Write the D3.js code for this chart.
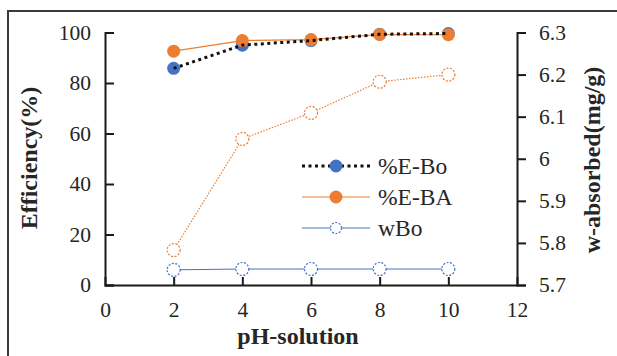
<!DOCTYPE html>
<html><head><meta charset="utf-8">
<script src="https://cdn.jsdelivr.net/npm/d3@7"></script>
<style>body{margin:0;background:#fff}svg{display:block}</style>
</head><body><svg id="c" width="617" height="356"></svg>
<script>
const pH = [2, 4, 6, 8, 10];
const effBo = [85.8, 95.0, 96.8, 99.3, 99.6];
const effBA = [92.6, 96.8, 97.2, 99.2, 99.1];
const wBA = [5.783, 6.047, 6.109, 6.183, 6.200];
const wBo = [5.736, 5.738, 5.738, 5.738, 5.738];
const xTicks = [0, 2, 4, 6, 8, 10, 12];
const yLeftTicks = [0, 20, 40, 60, 80, 100];
const yRightTicks = [5.7, 5.8, 5.9, 6.0, 6.1, 6.2, 6.3];
const legendItems = ["%E-Bo", "%E-BA", "wBo"];

const svg = d3.select("#c");
const font = "'Liberation Serif', 'Times New Roman', serif";
const blue = "#4472c4", orange = "#ed7d31", txt = "#262626";

const L = 105, R = 517, T = 32.5, B = 285;
const x = d3.scaleLinear().domain([0, 12]).range([L, R]);
const yL = d3.scaleLinear().domain([0, 100]).range([B, T]);
const yR = d3.scaleLinear().domain([5.7, 6.3]).range([B, T]);

// outer frame
svg.append("path").attr("d", "M8,360 L8,11 L620,11").attr("fill", "none")
  .attr("stroke", "#3a3a3a").attr("stroke-width", 2);

// axes
const gx = svg.append("g").attr("transform", `translate(0,${B})`)
  .call(d3.axisBottom(x).tickValues(xTicks).tickSize(-8).tickPadding(17).tickFormat(d3.format("d")));
const gl = svg.append("g").attr("transform", `translate(${L},0)`)
  .call(d3.axisLeft(yL).tickValues(yLeftTicks).tickSize(-9).tickPadding(14).tickFormat(d3.format("d")));
const gr = svg.append("g").attr("transform", `translate(${R},0)`)
  .call(d3.axisRight(yR).tickValues(yRightTicks).tickSize(9).tickPadding(13).tickFormat(d => d === 6 ? "6" : d3.format(".1f")(d)));
[gx, gl, gr].forEach(g => {
  g.select(".domain").attr("stroke", "#1a1a1a").attr("stroke-width", 2);
  g.selectAll(".tick line").attr("stroke", "#1a1a1a").attr("stroke-width", 2);
  g.selectAll(".tick text").attr("font-family", font).attr("font-size", 21.5).attr("fill", txt);
});
gx.selectAll(".tick").filter(d => d === 0 || d === 12).select("line").remove();

// axis titles
svg.append("text").attr("transform", `translate(37,158) rotate(-90)`).attr("text-anchor", "middle")
  .attr("font-family", font).attr("font-weight", "bold").attr("font-size", 24).attr("fill", txt).text("Efficiency(%)");
svg.append("text").attr("transform", `translate(600,160) rotate(-90)`).attr("text-anchor", "middle")
  .attr("font-family", font).attr("font-weight", "bold").attr("font-size", 24).attr("fill", txt).text("w-absorbed(mg/g)");
svg.append("text").attr("x", 298).attr("y", 344).attr("text-anchor", "middle")
  .attr("font-family", font).attr("font-weight", "bold").attr("font-size", 24).attr("fill", txt).text("pH-solution");

const line = (ys, sc) => d3.line().x((d, i) => x(pH[i])).y(d => sc(d))(ys);

// wBo (right axis)
svg.append("path").attr("d", line(wBo, yR)).attr("fill", "none").attr("stroke", blue).attr("stroke-width", 1);
svg.selectAll(".mwbo").data(wBo).join("circle").attr("cx", (d, i) => x(pH[i])).attr("cy", d => yR(d)).attr("r", 6.5)
  .attr("fill", "#fff").attr("stroke", blue).attr("stroke-width", 1.2).attr("stroke-dasharray", "2,1.5");
// wBA (right axis)
svg.append("path").attr("d", line(wBA, yR)).attr("fill", "none").attr("stroke", orange).attr("stroke-width", 1.2).attr("stroke-dasharray", "1.5,1.5");
svg.selectAll(".mwba").data(wBA).join("circle").attr("cx", (d, i) => x(pH[i])).attr("cy", d => yR(d)).attr("r", 6.5)
  .attr("fill", "#fff").attr("stroke", orange).attr("stroke-width", 1.2).attr("stroke-dasharray", "2,1.5");

// %E-Bo
svg.selectAll(".mebo").data(effBo).join("circle").attr("cx", (d, i) => x(pH[i])).attr("cy", d => yL(d)).attr("r", 6.5).attr("fill", blue);
// %E-BA
svg.append("path").attr("d", line(effBA, yL)).attr("fill", "none").attr("stroke", orange).attr("stroke-width", 1.2);
svg.selectAll(".meba").data(effBA).join("circle").attr("cx", (d, i) => x(pH[i])).attr("cy", d => yL(d)).attr("r", 6.5).attr("fill", orange);
svg.append("path").attr("d", line(effBo, yL)).attr("fill", "none").attr("stroke", "#111").attr("stroke-width", 3).attr("stroke-dasharray", "3,3.5");

// legend
const lg = svg.append("g");
const ly = [166, 197, 228];
legendItems.forEach((name, i) => {
  const g = lg.append("g").attr("transform", `translate(0,${ly[i]})`);
  if (i === 0) {
    g.append("line").attr("x1", 302).attr("x2", 370).attr("stroke", "#111").attr("stroke-width", 3).attr("stroke-dasharray", "3,3.5");
    g.append("circle").attr("cx", 336).attr("r", 6.5).attr("fill", blue);
  } else if (i === 1) {
    g.append("line").attr("x1", 302).attr("x2", 370).attr("stroke", orange).attr("stroke-width", 1.2);
    g.append("circle").attr("cx", 336).attr("r", 6.5).attr("fill", orange);
  } else {
    g.append("line").attr("x1", 302).attr("x2", 370).attr("stroke", blue).attr("stroke-width", 1);
    g.append("circle").attr("cx", 336).attr("r", 5.5).attr("fill", "#fff").attr("stroke", blue).attr("stroke-width", 1.2).attr("stroke-dasharray", "2,1.5");
  }
  g.append("text").attr("x", 378).attr("y", 8).attr("font-family", font).attr("font-size", 23.5).attr("fill", txt).text(name);
});
</script></body></html>
